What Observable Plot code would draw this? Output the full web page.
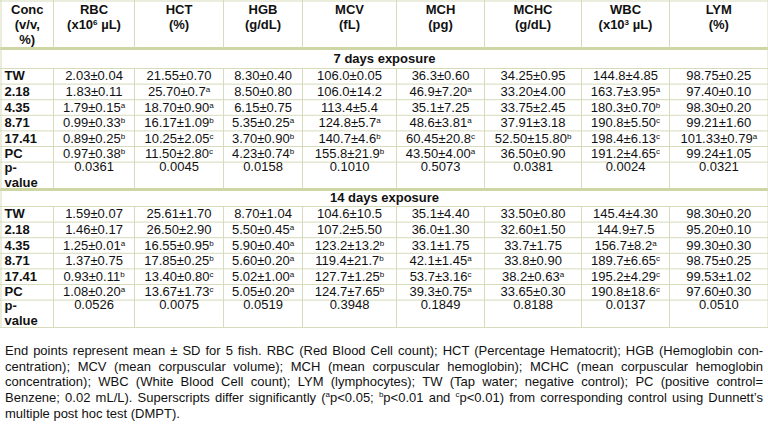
<!DOCTYPE html>
<html>
<head>
<meta charset="utf-8">
<script src="https://cdn.jsdelivr.net/npm/d3@7"></script>
<script src="https://cdn.jsdelivr.net/npm/@observablehq/plot@0.6"></script>
<style>
  html, body { margin: 0; padding: 0; background: #fff; }
  #wrap { width: 768px; }
  #caption { margin: 13px 5px 0 5px; font-family: "Liberation Sans Narrow", "Arial Narrow", "Liberation Sans", Arial, sans-serif; font-size: 13px; line-height: 15.7px; color: #111; }
  #caption .l { text-align: justify; text-align-last: justify; white-space: nowrap; }
  #caption .last { text-align: left; white-space: nowrap; }
  #caption sup { font-size: 8px; line-height: 0; }
</style>
</head>
<body>
<div id="wrap"></div>
<script>
// ---------- data ----------
const headers = ["Conc\n(v/v,\n%)", "RBC\n(x10^6 µL)", "HCT\n(%)", "HGB\n(g/dL)", "MCV\n(fL)", "MCH\n(pg)", "MCHC\n(g/dL)", "WBC\n(x10^3 µL)", "LYM\n(%)"];
const concs = ["TW", "2.18", "4.35", "8.71", "17.41", "PC"];
const pLabel = "p-\nvalue";
const sections = ["7 days exposure", "14 days exposure"];

// 7 days exposure (one array per parameter, rows = concs)
const rbc7  = ["2.03±0.04", "1.83±0.11", "1.79±0.15^a", "0.99±0.33^b", "0.89±0.25^b", "0.97±0.38^b"];
const hct7  = ["21.55±0.70", "25.70±0.7^a", "18.70±0.90^a", "16.17±1.09^b", "10.25±2.05^c", "11.50±2.80^c"];
const hgb7  = ["8.30±0.40", "8.50±0.80", "6.15±0.75", "5.35±0.25^a", "3.70±0.90^b", "4.23±0.74^b"];
const mcv7  = ["106.0±0.05", "106.0±14.2", "113.4±5.4", "124.8±5.7^a", "140.7±4.6^b", "155.8±21.9^b"];
const mch7  = ["36.3±0.60", "46.9±7.20^a", "35.1±7.25", "48.6±3.81^a", "60.45±20.8^c", "43.50±4.00^a"];
const mchc7 = ["34.25±0.95", "33.20±4.00", "33.75±2.45", "37.91±3.18", "52.50±15.80^b", "36.50±0.90"];
const wbc7  = ["144.8±4.85", "163.7±3.95^a", "180.3±0.70^b", "190.8±5.50^c", "198.4±6.13^c", "191.2±4.65^c"];
const lym7  = ["98.75±0.25", "97.40±0.10", "98.30±0.20", "99.21±1.60", "101.33±0.79^a", "99.24±1.05"];
const p7    = ["0.0361", "0.0045", "0.0158", "0.1010", "0.5073", "0.0381", "0.0024", "0.0321"];

// 14 days exposure
const rbc14  = ["1.59±0.07", "1.46±0.17", "1.25±0.01^a", "1.37±0.75", "0.93±0.11^b", "1.08±0.20^a"];
const hct14  = ["25.61±1.70", "26.50±2.90", "16.55±0.95^b", "17.85±0.25^b", "13.40±0.80^c", "13.67±1.73^c"];
const hgb14  = ["8.70±1.04", "5.50±0.45^a", "5.90±0.40^a", "5.60±0.20^a", "5.02±1.00^a", "5.05±0.20^a"];
const mcv14  = ["104.6±10.5", "107.2±5.50", "123.2±13.2^b", "119.4±21.7^b", "127.7±1.25^b", "124.7±7.65^b"];
const mch14  = ["35.1±4.40", "36.0±1.30", "33.1±1.75", "42.1±1.45^a", "53.7±3.16^c", "39.3±0.75^a"];
const mchc14 = ["33.50±0.80", "32.60±1.50", "33.7±1.75", "33.8±0.90", "38.2±0.63^a", "33.65±0.30"];
const wbc14  = ["145.4±4.30", "144.9±7.5", "156.7±8.2^a", "189.7±6.65^c", "195.2±4.29^c", "190.8±18.6^c"];
const lym14  = ["98.30±0.20", "95.20±0.10", "99.30±0.30", "98.75±0.25", "99.53±1.02", "97.60±0.30"];
const p14    = ["0.0526", "0.0075", "0.0519", "0.3948", "0.1849", "0.8188", "0.0137", "0.0510"];

const caption = [
  "End points represent mean ± SD for 5 fish. RBC (Red Blood Cell count); HCT (Percentage Hematocrit); HGB (Hemoglobin con-",
  "centration); MCV (mean corpuscular volume); MCH (mean corpuscular hemoglobin); MCHC (mean corpuscular hemoglobin",
  "concentration); WBC (White Blood Cell count); LYM (lymphocytes); TW (Tap water; negative control); PC (positive control=",
  "Benzene; 0.02 mL/L). Superscripts differ significantly (^ap<0.05; ^bp<0.01 and ^cp<0.01) from corresponding control using Dunnett’s",
  "multiple post hoc test (DMPT)."
];

// ---------- layout (positions only) ----------
const W = 768, H = 330;
const colEdges = [0.5, 53, 134, 223, 302, 396, 484, 581, 669, 767.5];
const headerBottom = 48;
const rowH = 15.6;
const sec7Top = 48, sec7Bottom = 68;
const sec14Top = 189, sec14Bottom = 206;
const pRowH = 27.4;
const tableBottom = 327;

const blocks = [
  {section: sections[0], secTop: sec7Top, secBottom: sec7Bottom, cols: [rbc7, hct7, hgb7, mcv7, mch7, mchc7, wbc7, lym7], p: p7},
  {section: sections[1], secTop: sec14Top, secBottom: sec14Bottom, cols: [rbc14, hct14, hgb14, mcv14, mch14, mchc14, wbc14, lym14], p: p14}
];

const colCenter = i => (colEdges[i] + colEdges[i + 1]) / 2;

const headerTexts = headers.map((h, i) => ({x: colCenter(i), y: 3, text: h}));
const sectionTexts = [];
const labelTexts = [];
const valueTexts = [];
const pLabelTexts = [];
const pValueTexts = [];
const hThin = [];
const hThick = [];
const vLines = [];

hThin.push({y: 0.5});
hThick.push({y: headerBottom});
for (let i = 1; i < colEdges.length - 1; i++) vLines.push({x: colEdges[i], y1: 0, y2: headerBottom});

blocks.forEach((b, bi) => {
  sectionTexts.push({x: W / 2, y: (b.secTop + b.secBottom) / 2, text: b.section});
  hThin.push({y: b.secBottom});
  concs.forEach((c, r) => {
    const top = b.secBottom + r * rowH;
    const cy = top + rowH / 2;
    labelTexts.push({x: 4, y: cy, text: c});
    b.cols.forEach((col, ci) => valueTexts.push({x: colCenter(ci + 1), y: cy, text: col[r]}));
    hThin.push({y: top + rowH});
  });
  const pTop = b.secBottom + concs.length * rowH;
  pLabelTexts.push({x: 4, y: pTop - 0.5, text: pLabel});
  b.p.forEach((v, ci) => pValueTexts.push({x: colCenter(ci + 1), y: pTop - 0.5, text: v}));
  const pBottom = pTop + pRowH;
  if (bi === 0) hThick.push({y: pBottom}); else hThin.push({y: tableBottom});
  for (let i = 1; i < colEdges.length - 1; i++) vLines.push({x: colEdges[i], y1: b.secBottom, y2: bi === 0 ? pBottom : tableBottom});
});
vLines.push({x: colEdges[0], y1: 0, y2: tableBottom});
vLines.push({x: colEdges[colEdges.length - 1], y1: 0, y2: tableBottom});

const lineColor = "#d6dbbb";
const thickColor = "#cfd6a6";
const ink = "#111";

const chart = Plot.plot({
  width: W,
  height: H,
  margin: 0,
  x: {type: "linear", domain: [0, W], range: [0, W], axis: null},
  y: {type: "linear", domain: [0, H], range: [0, H], axis: null},
  style: {fontFamily: "'Liberation Sans', Arial, sans-serif", fontSize: "13px", background: "#fff", color: ink, overflow: "visible"},
  marks: [
    Plot.ruleY(hThin, {y: "y", x1: 0, x2: W, stroke: lineColor, strokeWidth: 1}),
    Plot.ruleY(hThick, {y: "y", x1: 0, x2: W, stroke: thickColor, strokeWidth: 3}),
    Plot.ruleX(vLines, {x: "x", y1: "y1", y2: "y2", stroke: lineColor, strokeWidth: 1}),
    Plot.text(headerTexts, {x: "x", y: "y", text: "text", lineAnchor: "top", lineHeight: 15 / 13, fontWeight: "bold", fontSize: 13, fill: ink}),
    Plot.text(sectionTexts, {x: "x", y: "y", text: "text", fontWeight: "bold", fontSize: 13, fill: ink}),
    Plot.text(labelTexts, {x: "x", y: "y", text: "text", textAnchor: "start", fontWeight: "bold", fontSize: 13, fill: ink}),
    Plot.text(valueTexts, {x: "x", y: "y", text: "text", fontSize: 13, fill: ink}),
    Plot.text(pLabelTexts, {x: "x", y: "y", text: "text", textAnchor: "start", lineAnchor: "top", lineHeight: 15 / 13, fontWeight: "bold", fontSize: 13, fill: ink}),
    Plot.text(pValueTexts, {x: "x", y: "y", text: "text", lineAnchor: "top", fontSize: 13, fill: ink})
  ]
});

// turn "^x" markers into real superscript tspans
const svgns = "http://www.w3.org/2000/svg";
function supify(el) {
  for (const node of [...el.childNodes]) {
    if (node.nodeType === 3 && node.nodeValue.includes("^")) {
      const parts = node.nodeValue.split(/\^(\w)/);
      const frag = document.createDocumentFragment();
      parts.forEach((p, i) => {
        if (i % 2 === 0) { if (p) frag.appendChild(document.createTextNode(p)); }
        else {
          const t = document.createElementNS(svgns, "tspan");
          t.setAttribute("font-size", "8");
          t.setAttribute("baseline-shift", "4");
          t.textContent = p;
          frag.appendChild(t);
        }
      });
      node.replaceWith(frag);
    } else if (node.nodeType === 1) supify(node);
  }
}
supify(chart);

const wrap = document.getElementById("wrap");
wrap.appendChild(chart);

const cap = document.createElement("div");
cap.id = "caption";
caption.forEach((line, i) => {
  const d = document.createElement("div");
  d.className = i === caption.length - 1 ? "last" : "l";
  d.innerHTML = line.replace(/\^(\w)/g, "<sup>$1</sup>");
  cap.appendChild(d);
});
wrap.appendChild(cap);
</script>
</body>
</html>
